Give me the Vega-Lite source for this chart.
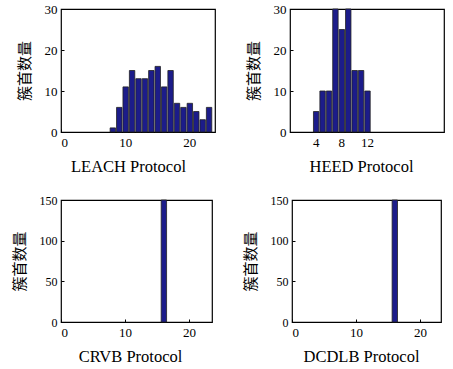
{
  "$schema": "https://vega.github.io/schema/vega-lite/v6.json",
  "padding": {"left": 11, "top": 2, "right": 3, "bottom": 2},
  "data": {"values": [
    {"protocol": "LEACH", "bin_start": 7.5, "bin_end": 8.5, "count": 1},
    {"protocol": "LEACH", "bin_start": 8.5, "bin_end": 9.5, "count": 6},
    {"protocol": "LEACH", "bin_start": 9.5, "bin_end": 10.5, "count": 11},
    {"protocol": "LEACH", "bin_start": 10.5, "bin_end": 11.5, "count": 15},
    {"protocol": "LEACH", "bin_start": 11.5, "bin_end": 12.5, "count": 13},
    {"protocol": "LEACH", "bin_start": 12.5, "bin_end": 13.5, "count": 13},
    {"protocol": "LEACH", "bin_start": 13.5, "bin_end": 14.5, "count": 15},
    {"protocol": "LEACH", "bin_start": 14.5, "bin_end": 15.5, "count": 16},
    {"protocol": "LEACH", "bin_start": 15.5, "bin_end": 16.5, "count": 11},
    {"protocol": "LEACH", "bin_start": 16.5, "bin_end": 17.5, "count": 15},
    {"protocol": "LEACH", "bin_start": 17.5, "bin_end": 18.5, "count": 7},
    {"protocol": "LEACH", "bin_start": 18.5, "bin_end": 19.5, "count": 6},
    {"protocol": "LEACH", "bin_start": 19.5, "bin_end": 20.5, "count": 7},
    {"protocol": "LEACH", "bin_start": 20.5, "bin_end": 21.5, "count": 5},
    {"protocol": "LEACH", "bin_start": 21.5, "bin_end": 22.5, "count": 3},
    {"protocol": "LEACH", "bin_start": 22.5, "bin_end": 23.5, "count": 6},
    {"protocol": "HEED", "bin_start": 3.5, "bin_end": 4.5, "count": 5},
    {"protocol": "HEED", "bin_start": 4.5, "bin_end": 5.5, "count": 10},
    {"protocol": "HEED", "bin_start": 5.5, "bin_end": 6.5, "count": 10},
    {"protocol": "HEED", "bin_start": 6.5, "bin_end": 7.5, "count": 30},
    {"protocol": "HEED", "bin_start": 7.5, "bin_end": 8.5, "count": 25},
    {"protocol": "HEED", "bin_start": 8.5, "bin_end": 9.5, "count": 30},
    {"protocol": "HEED", "bin_start": 9.5, "bin_end": 10.5, "count": 15},
    {"protocol": "HEED", "bin_start": 10.5, "bin_end": 11.5, "count": 15},
    {"protocol": "HEED", "bin_start": 11.5, "bin_end": 12.5, "count": 10},
    {"protocol": "CRVB", "bin_start": 15.5, "bin_end": 16.5, "count": 150},
    {"protocol": "DCDLB", "bin_start": 15.5, "bin_end": 16.5, "count": 150}
  ]},
  "config": {
    "view": {"stroke": "black", "strokeWidth": 1.2},
    "axis": {
      "grid": false, "domain": false, "tickColor": "black", "tickSize": -3,
      "labelFont": "Liberation Serif", "labelFontSize": 13, "labelColor": "black", "labelPadding": 7,
      "titleFont": "Liberation Serif", "titleFontSize": 16.5, "titleFontWeight": "normal", "titleColor": "black"
    },
    "axisX": {"titlePadding": 9},
    "axisY": {"titleFont": "Noto Sans CJK SC", "titleFontSize": 15, "titlePadding": 12}
  },
  "spacing": 17,
  "vconcat": [
    {
      "spacing": 29,
      "hconcat": [
        {
          "width": 154, "height": 123,
          "transform": [{"filter": "datum.protocol === 'LEACH'"}],
          "mark": {"type": "bar", "fill": "#1c1c8a", "stroke": "#222222", "strokeWidth": 0.8},
          "encoding": {
            "x": {"field": "bin_start", "type": "quantitative", "bin": {"binned": true}, "scale": {"domain": [0, 24], "nice": false},
                  "axis": {"title": "LEACH Protocol", "values": [0, 10, 20], "titleX": 67}},
            "x2": {"field": "bin_end"},
            "y": {"field": "count", "type": "quantitative", "scale": {"domain": [0, 30], "nice": false},
                  "axis": {"title": "簇首数量", "values": [0, 10, 20, 30]}}
          }
        },
        {
          "width": 154, "height": 123,
          "transform": [{"filter": "datum.protocol === 'HEED'"}],
          "mark": {"type": "bar", "fill": "#1c1c8a", "stroke": "#222222", "strokeWidth": 0.8},
          "encoding": {
            "x": {"field": "bin_start", "type": "quantitative", "bin": {"binned": true}, "scale": {"domain": [0, 24], "nice": false},
                  "axis": {"title": "HEED Protocol", "values": [4, 8, 12], "titleX": 71}},
            "x2": {"field": "bin_end"},
            "y": {"field": "count", "type": "quantitative", "scale": {"domain": [0, 30], "nice": false},
                  "axis": {"title": "簇首数量", "values": [0, 10, 20, 30]}}
          }
        }
      ]
    },
    {
      "spacing": 29,
      "hconcat": [
        {
          "width": 151, "height": 122,
          "transform": [{"filter": "datum.protocol === 'CRVB'"}],
          "mark": {"type": "bar", "fill": "#1c1c8a", "stroke": "#222222", "strokeWidth": 0.8},
          "encoding": {
            "x": {"field": "bin_start", "type": "quantitative", "bin": {"binned": true}, "scale": {"domain": [0, 23.6], "nice": false},
                  "axis": {"title": "CRVB Protocol", "values": [0, 10, 20], "titleX": 69}},
            "x2": {"field": "bin_end"},
            "y": {"field": "count", "type": "quantitative", "scale": {"domain": [0, 150], "nice": false},
                  "axis": {"title": "簇首数量", "values": [0, 50, 100, 150], "labelFontSize": 12}}
          }
        },
        {
          "width": 149, "height": 122,
          "transform": [{"filter": "datum.protocol === 'DCDLB'"}],
          "mark": {"type": "bar", "fill": "#1c1c8a", "stroke": "#222222", "strokeWidth": 0.8},
          "encoding": {
            "x": {"field": "bin_start", "type": "quantitative", "bin": {"binned": true}, "scale": {"domain": [0, 23.3], "nice": false},
                  "axis": {"title": "DCDLB Protocol", "values": [0, 10, 20], "titleX": 69}},
            "x2": {"field": "bin_end"},
            "y": {"field": "count", "type": "quantitative", "scale": {"domain": [0, 150], "nice": false},
                  "axis": {"title": "簇首数量", "values": [0, 50, 100, 150], "labelFontSize": 12}}
          }
        }
      ]
    }
  ]
}
